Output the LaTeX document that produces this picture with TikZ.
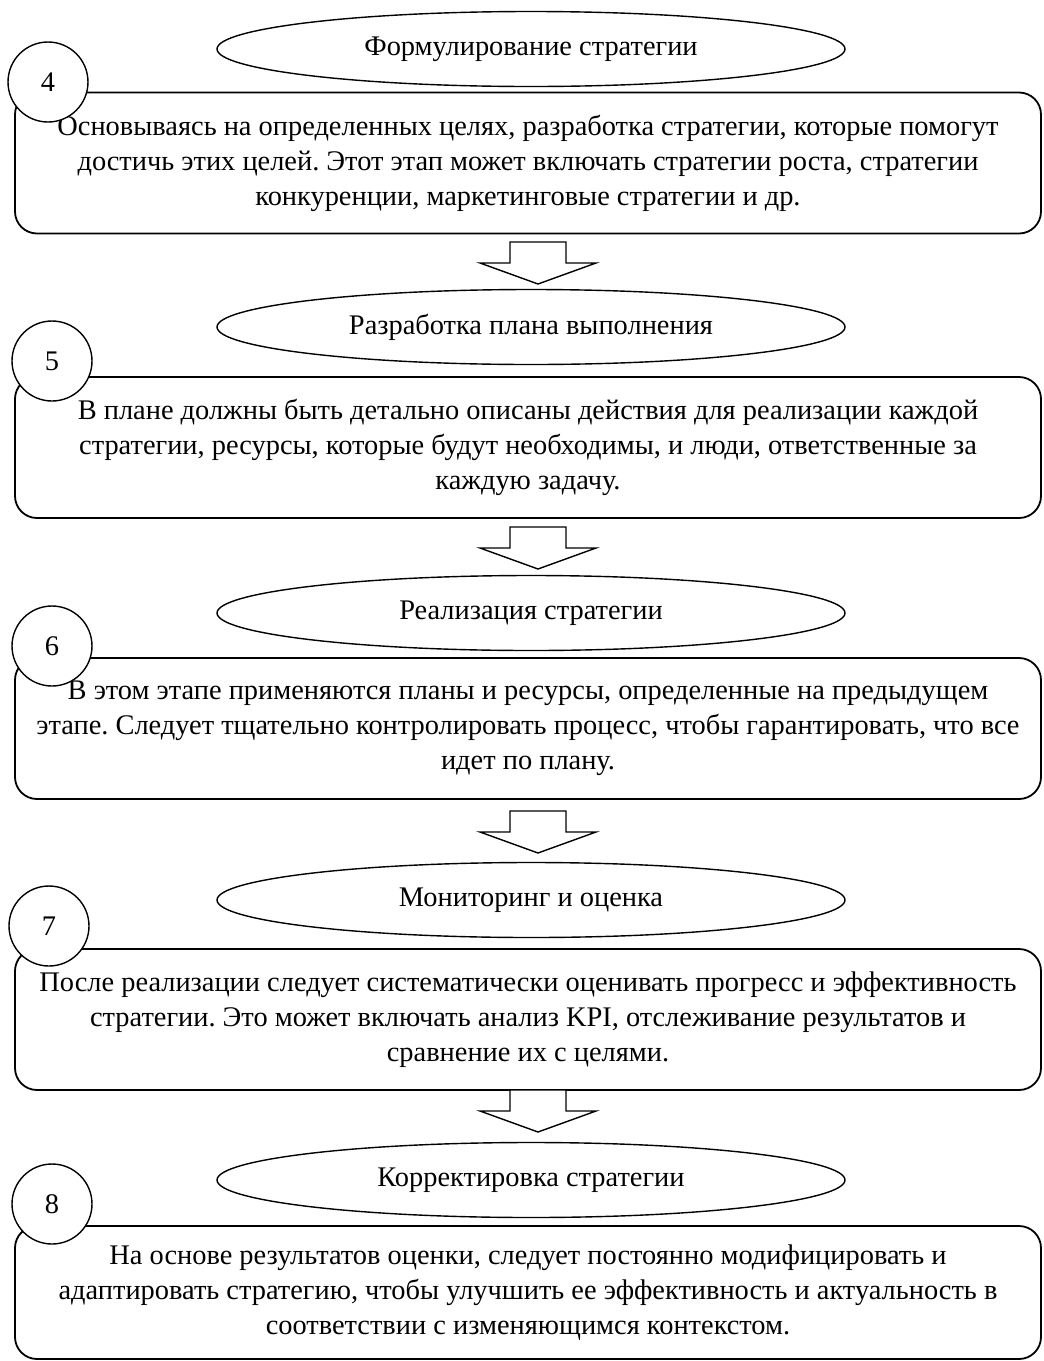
\documentclass[tikz,border=0pt]{standalone}
\usepackage{fontspec}
\setmainfont{Liberation Serif}
\usepackage{tikz}
\usetikzlibrary{shapes.geometric}
\frenchspacing

\begin{document}
\begin{tikzpicture}[x=0.5pt, y=-0.5pt,
    stage/.style={ellipse, draw, line width=0.7pt, minimum width=314pt, minimum height=37.5pt, inner sep=0pt, font=\fontsize{14.2}{17.5}\selectfont},
    stepnum/.style={circle, draw, line width=0.7pt, fill=white, minimum size=40pt, inner sep=0pt, font=\fontsize{14.2}{17.5}\selectfont},
    textbox/.style={draw, line width=0.9pt, rounded corners=11pt, minimum width=513pt, minimum height=70.5pt, align=center, inner sep=0pt, font=\fontsize{14.2}{17.5}\selectfont},
    downarrow/.pic={\draw[line width=0.7pt, fill=white] (-28,0) -- (28,0) -- (28,21) -- (58,21) -- (0,42) -- (-58,21) -- (-28,21) -- cycle;}]
    \useasboundingbox (0, 0) rectangle (1044, 1361);

    \node[textbox] (box4) at (528, 163) {Основываясь на определенных целях, разработка стратегии, которые помогут\\ достичь этих целей. Этот этап может включать стратегии роста, стратегии\\ конкуренции, маркетинговые стратегии и др.};
    \node[stage] (ell4) at (531, 49) {Формулирование стратегии};
    \node[stepnum] (num4) at (48, 82) {4};
    \pic at (538, 242) {downarrow};

    \node[textbox] (box5) at (528, 447.5) {В плане должны быть детально описаны действия для реализации каждой\\ стратегии, ресурсы, которые будут необходимы, и люди, ответственные за\\ каждую задачу.};
    \node[stage] (ell5) at (531, 327) {Разработка плана выполнения};
    \node[stepnum] (num5) at (52, 361) {5};
    \pic at (538, 527) {downarrow};

    \node[textbox] (box6) at (528, 728.5) {В этом этапе применяются планы и ресурсы, определенные на предыдущем\\ этапе. Следует тщательно контролировать процесс, чтобы гарантировать, что все\\ идет по плану.};
    \node[stage] (ell6) at (531, 613) {Реализация стратегии};
    \node[stepnum] (num6) at (52, 646) {6};
    \pic at (538, 811) {downarrow};

    \node[textbox] (box7) at (528, 1019.5) {После реализации следует систематически оценивать прогресс и эффективность\\ стратегии. Это может включать анализ KPI, отслеживание результатов и\\ сравнение их с целями.};
    \node[stage] (ell7) at (531, 900) {Мониторинг и оценка};
    \node[stepnum] (num7) at (49, 926) {7};
    \pic at (538, 1090) {downarrow};

    \node[textbox, minimum height=66.5pt] (box8) at (528, 1292.5) {На основе результатов оценки, следует постоянно модифицировать и\\ адаптировать стратегию, чтобы улучшить ее эффективность и актуальность в\\ соответствии с изменяющимся контекстом.};
    \node[stage] (ell8) at (531, 1180) {Корректировка стратегии};
    \node[stepnum] (num8) at (52, 1204) {8};
\end{tikzpicture}
\end{document}
